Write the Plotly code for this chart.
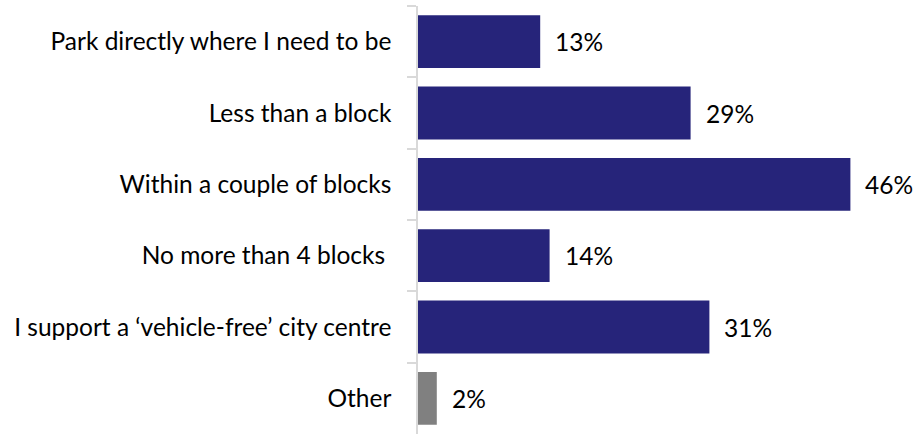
import plotly.graph_objects as go

# Preferred parking distance responses
categories = [
    "Park directly where I need to be",
    "Less than a block",
    "Within a couple of blocks",
    "No more than 4 blocks ",
    "I support a \u2018vehicle-free\u2019 city centre",
    "Other",
]
shares = [13, 29, 46, 14, 31, 2]
bar_colors = ["#26247A", "#26247A", "#26247A", "#26247A", "#26247A", "#808080"]

FONT = "Lato"
SIZE = 24.5

fig = go.Figure(
    go.Bar(
        y=categories,
        x=shares,
        orientation="h",
        marker=dict(color=bar_colors, line=dict(width=0)),
        width=0.74,
        hoverinfo="skip",
    )
)

for cat, val in zip(categories, shares):
    fig.add_annotation(
        x=val, y=cat, text=f"{val}%", showarrow=False,
        xanchor="left", yanchor="middle", xshift=13,
        font=dict(family=FONT, size=SIZE, color="#000000"),
    )

fig.update_layout(
    width=920, height=435,
    margin=dict(l=418, r=32, t=6, b=1),
    paper_bgcolor="white", plot_bgcolor="white",
    showlegend=False,
    font=dict(family=FONT, size=SIZE, color="#000000"),
)
fig.update_xaxes(range=[0, 50], visible=False, fixedrange=True)
fig.update_yaxes(
    autorange="reversed",
    showline=True, linecolor="#D9D9D9", linewidth=1.5,
    ticks="outside", tickson="boundaries", ticklen=9, tickcolor="#D9D9D9", tickwidth=1.5,
    ticklabelstandoff=20,
    showgrid=False, zeroline=False, fixedrange=True,
)

fig.write_html("out.html")
